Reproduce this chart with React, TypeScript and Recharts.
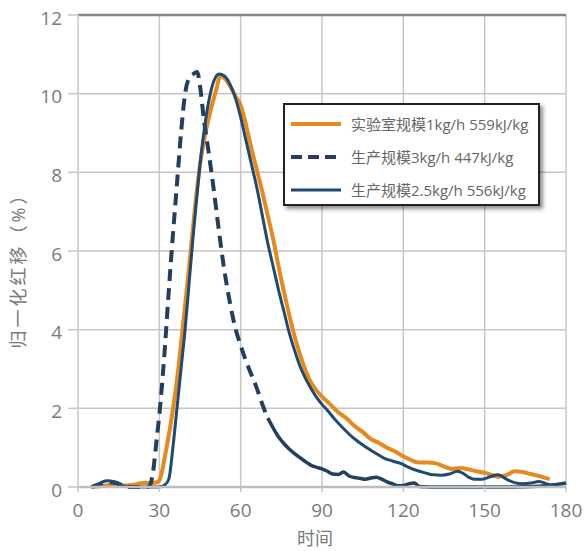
import React from 'react';
import { LineChart, Line, XAxis, YAxis, CartesianGrid, Legend, ReferenceLine, Label } from 'recharts';

// ---- data ----
const labTime = [5, 8, 12, 16, 20, 24, 27, 29, 30, 32.5, 35, 37, 39, 41, 43, 45, 47, 49, 51, 52.5, 54, 56, 58, 60, 62, 64, 66, 68, 70, 72, 74, 76, 78, 80, 82, 84, 86, 88, 90, 93, 96, 99, 102, 105, 108, 111, 114, 117, 120, 123, 126, 129, 132, 135, 138, 141, 144, 147, 150, 153, 155, 158, 161, 164, 167, 170, 173, 174];
const labValue = [0, 0.02, 0.05, 0.03, 0.05, 0.1, 0.1, 0.12, 0.17, 0.94, 1.96, 3.0, 4.3, 5.6, 7.0, 8.2, 9.0, 9.6, 10.1, 10.45, 10.4, 10.2, 9.95, 9.7, 9.2, 8.6, 8.05, 7.5, 6.9, 6.3, 5.6, 4.95, 4.35, 3.8, 3.35, 2.95, 2.65, 2.45, 2.3, 2.1, 1.9, 1.75, 1.55, 1.4, 1.22, 1.12, 1.0, 0.9, 0.78, 0.68, 0.62, 0.62, 0.6, 0.52, 0.46, 0.48, 0.45, 0.4, 0.36, 0.3, 0.26, 0.3, 0.4, 0.38, 0.33, 0.28, 0.22, 0.2];

const prod25Time = [5, 7, 9, 11, 13, 15, 17, 20, 25, 30, 32, 33.5, 35, 36.5, 38, 39.5, 41, 42.5, 44, 45.5, 47, 48.5, 50, 52, 54, 56, 58, 60, 62, 64, 66, 68, 70, 72, 74, 76, 78, 80, 82, 84, 86, 88, 90, 92, 95, 98, 101, 104, 107, 110, 113, 116, 119, 122, 125, 128, 131, 134, 137, 140, 142, 144, 146, 149, 152, 155, 158, 161, 164, 167, 170, 173, 175];
const prod25Value = [0, 0.05, 0.13, 0.16, 0.14, 0.1, 0.02, 0, 0, 0, 0.05, 0.2, 1.0, 2.0, 3.0, 4.0, 5.2, 6.4, 7.5, 8.5, 9.3, 9.9, 10.3, 10.5, 10.45, 10.25, 9.9, 9.4, 8.8, 8.2, 7.6, 6.9, 6.2, 5.6, 5.0, 4.45, 3.9, 3.45, 3.05, 2.75, 2.5, 2.28, 2.1, 1.95, 1.7, 1.48, 1.28, 1.12, 0.98, 0.85, 0.73, 0.66, 0.6, 0.5, 0.42, 0.36, 0.31, 0.3, 0.33, 0.4, 0.35, 0.25, 0.2, 0.2, 0.26, 0.31, 0.2, 0.11, 0.08, 0.1, 0.14, 0.08, 0.03];

const prod3Time = [5, 8, 11, 14, 17, 20, 26, 27.5, 29, 30.5, 32, 33.5, 35, 36.5, 38, 39.5, 41, 42.5, 44, 45, 46.5, 48, 50, 52, 54, 56, 58, 60, 62, 64, 66, 68, 70, 72, 74, 76, 78, 80, 82, 84, 86, 88, 90, 92, 94, 96, 98, 100, 102, 104, 106, 108, 110, 112, 114, 116, 118, 120, 122, 124, 126, 130, 140, 150, 160, 170, 175, 180];
const prod3Value = [0, 0.08, 0.12, 0.1, 0.02, 0, 0, 0.3, 1.2, 2.2, 3.5, 5.0, 6.4, 7.7, 9.0, 10.0, 10.4, 10.5, 10.55, 10.2, 9.3, 8.6, 7.6, 6.5, 5.5, 4.7, 4.05, 3.6, 3.2, 2.85, 2.5, 2.1, 1.75, 1.5, 1.27, 1.1, 0.96, 0.84, 0.74, 0.64, 0.55, 0.5, 0.46, 0.4, 0.33, 0.32, 0.38, 0.28, 0.24, 0.22, 0.2, 0.23, 0.25, 0.2, 0.13, 0.08, 0.03, 0.04, 0.08, 0.1, 0.01, 0, 0, 0, 0, 0.02, 0.05, 0.1];

const seriesNames = ['实验室规模1kg/h 559kJ/kg', '生产规模3kg/h 447kJ/kg', '生产规模2.5kg/h 556kJ/kg'];
const xTicks = [0, 30, 60, 90, 120, 150, 180];
const yTicks = [0, 2, 4, 6, 8, 10, 12];
const dashEndTime = 70;

const ORANGE = '#e8891d';
const BLUE = '#1f4a73';
const DBLUE = '#223f60';

const zip = (ts: number[], vs: number[]) => ts.map((t, i) => ({ t, v: vs[i] }));
const labData = zip(labTime, labValue);
const prod25Data = zip(prod25Time, prod25Value);
const prod3All = zip(prod3Time, prod3Value);
const prod3Dashed = prod3All.filter((d) => d.t <= dashEndTime);
const prod3Tail = prod3All.filter((d) => d.t >= dashEndTime);

const FONT = '"Open Sans", "Noto Sans CJK SC", sans-serif';

const legendItems = [
  { name: seriesNames[0], color: ORANGE, dash: undefined as string | undefined, width: 4 },
  { name: seriesNames[1], color: DBLUE, dash: '11 6', width: 4 },
  { name: seriesNames[2], color: BLUE, dash: undefined, width: 3 },
];

const LegendBox = () => (
  <div
    style={{
      width: 253,
      height: 97,
      border: '2px solid #222',
      background: '#fff',
      boxShadow: '3px 3px 4px rgba(0,0,0,0.45)',
      fontFamily: FONT,
      fontSize: 15,
      color: '#666',
      paddingTop: 2,
      boxSizing: 'content-box',
    }}
  >
    {legendItems.map((it) => (
      <div key={it.name} style={{ display: 'flex', alignItems: 'center', height: 33 }}>
        <svg width={62} height={10} style={{ marginLeft: 4 }}>
          <line x1={2} y1={5} x2={52} y2={5} stroke={it.color} strokeWidth={it.width} strokeDasharray={it.dash} />
        </svg>
        <span style={{ whiteSpace: 'nowrap' }}>{it.name}</span>
      </div>
    ))}
  </div>
);

export default function App() {
  return (
    <div style={{ position: 'absolute', left: 0, top: 0 }}>
      <LineChart width={585} height={551} margin={{ top: 15, right: 19, bottom: 0, left: 0 }}>
        <CartesianGrid stroke="#c6c6c6" strokeWidth={1.5} />
        <XAxis
          type="number"
          dataKey="t"
          domain={[0, 180]}
          ticks={xTicks}
          height={64}
          tickSize={5}
          tickMargin={12}
          tickLine={{ stroke: '#c6c6c6', strokeWidth: 1.5 }}
          axisLine={{ stroke: '#bdbdbd', strokeWidth: 2.5 }}
          tick={{ fill: '#7a7a7a', fontSize: 19, fontFamily: FONT }}
        >
          <Label value="时间" position="insideBottom" offset={6} dx={-7} style={{ fill: '#7a7a7a', fontSize: 18, fontFamily: FONT }} />
        </XAxis>
        <YAxis
          type="number"
          domain={[0, 12]}
          ticks={yTicks}
          width={78}
          tickSize={10}
          tickMargin={6}
          tickLine={{ stroke: '#c6c6c6', strokeWidth: 1.5 }}
          axisLine={{ stroke: '#d4d4d4', strokeWidth: 1.5 }}
          tick={{ fill: '#7a7a7a', fontSize: 19, fontFamily: FONT, dy: 3 }}
        >
          <Label
            content={() => (
              <text
                x={18}
                y={266}
                transform="rotate(-90 18 266)"
                textAnchor="middle"
                dominantBaseline="central"
                fill="#7a7a7a"
                fontSize={18}
                fontFamily={FONT}
                letterSpacing={3}
              >
                归一化红移（%）
              </text>
            )}
          />
        </YAxis>
        <ReferenceLine y={12} stroke="#858585" strokeWidth={2.5} />
        <Legend
          layout="vertical"
          align="center"
          verticalAlign="middle"
          content={() => <LegendBox />}
          wrapperStyle={{ position: 'absolute', left: 283, top: 103, width: 257, height: 101 }}
        />
        <Line
          data={labData}
          dataKey="v"
          name={seriesNames[0]}
          stroke={ORANGE}
          strokeWidth={4}
          dot={false}
          type="monotone"
          isAnimationActive={false}
        />
        <Line
          data={prod3Dashed}
          dataKey="v"
          name={seriesNames[1]}
          stroke={DBLUE}
          strokeWidth={4}
          strokeDasharray="12 7"
          dot={false}
          type="monotone"
          isAnimationActive={false}
        />
        <Line
          data={prod3Tail}
          dataKey="v"
          name="tail"
          legendType="none"
          stroke={DBLUE}
          strokeWidth={3.5}
          dot={false}
          type="monotone"
          isAnimationActive={false}
        />
        <Line
          data={prod25Data}
          dataKey="v"
          name={seriesNames[2]}
          stroke={BLUE}
          strokeWidth={3}
          dot={false}
          type="monotone"
          isAnimationActive={false}
        />
      </LineChart>
    </div>
  );
}
